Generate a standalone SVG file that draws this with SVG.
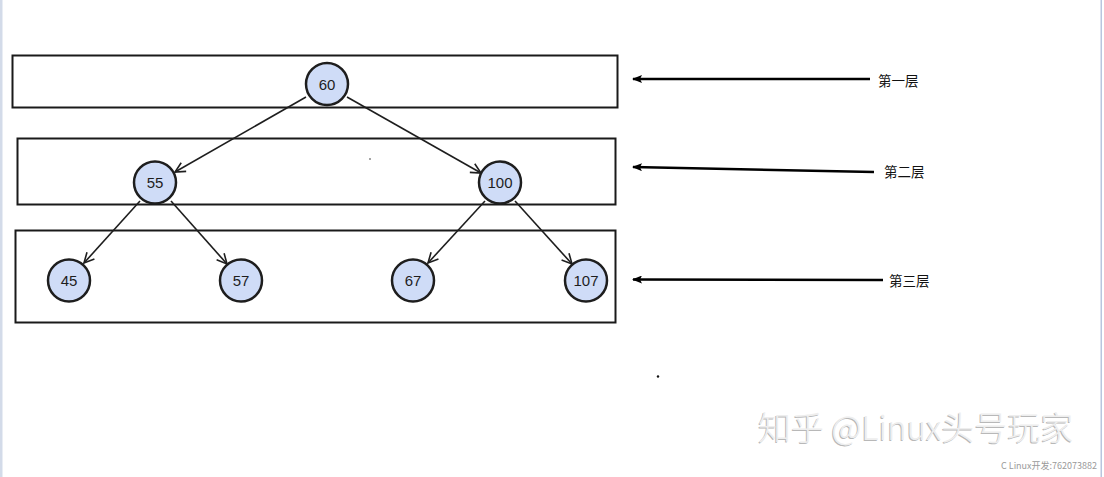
<svg xmlns="http://www.w3.org/2000/svg" width="1104" height="477" viewBox="0 0 1104 477">
<style>
.layer{fill:none;stroke:#1a1a1a;stroke-width:2}
.node circle{fill:#cfdcf7;stroke:#1e1e1e;stroke-width:2.5}
.node text{font-family:"Liberation Sans",Arial,sans-serif;font-size:15px;fill:#1e1e1e;text-anchor:middle;dominant-baseline:central}
.edge{stroke:#1e1e1e;stroke-width:1.6;fill:none;marker-end:url(#open)}
.pointer{stroke:#000;stroke-width:2.5;fill:none;marker-end:url(#solid)}
.lbl{font-family:"Noto Sans CJK SC",sans-serif;font-size:13.5px;fill:#111;dominant-baseline:central}
.wm{font-family:"Noto Sans CJK SC","Noto Sans",sans-serif;font-size:33px;font-weight:300}
</style>
<defs>
<marker id="open" markerUnits="userSpaceOnUse" markerWidth="14" markerHeight="14" refX="11" refY="6" orient="auto" viewBox="0 0 14 12">
<path d="M1,1 L11,6 L1,11" fill="none" stroke="#1e1e1e" stroke-width="1.6"/>
</marker>
<marker id="solid" markerUnits="userSpaceOnUse" markerWidth="10" markerHeight="8" refX="9" refY="4" orient="auto" viewBox="0 0 10 8">
<path d="M0,0 L10,4 L0,8 L2,4 Z" fill="#000"/>
</marker>
</defs>
<rect x="0" y="0" width="1104" height="477" fill="#fff"/>
<rect x="0" y="0" width="2.5" height="477" fill="#d3dbe9"/>
<rect x="1100.5" y="0" width="1.5" height="477" fill="#b9c5de"/>

<g id="layers">
<rect id="layer1" class="layer" x="12.5" y="55.5" width="605" height="52"/>
<rect id="layer2" class="layer" x="17.5" y="138.5" width="598" height="66"/>
<rect id="layer3" class="layer" x="15.5" y="230.5" width="600" height="92"/>
</g>

<g id="connectors">
<line class="edge" x1="306" y1="97" x2="175" y2="172"/>
<line class="edge" x1="347" y1="97" x2="481" y2="173"/>
<line class="edge" x1="140" y1="201" x2="84" y2="263"/>
<line class="edge" x1="171" y1="201" x2="227" y2="264"/>
<line class="edge" x1="485" y1="201" x2="428" y2="263"/>
<line class="edge" x1="515" y1="201" x2="572" y2="264"/>
<line class="pointer" x1="870" y1="79" x2="633" y2="79"/>
<line class="pointer" x1="874" y1="172" x2="633" y2="167"/>
<line class="pointer" x1="883" y1="280" x2="633" y2="279.5"/>
</g>

<g id="n60" class="node"><circle cx="327" cy="84" r="21"/><text x="327" y="84">60</text></g>
<g id="n55" class="node"><circle cx="155" cy="182.5" r="21"/><text x="155" y="182.5">55</text></g>
<g id="n100" class="node"><circle cx="500" cy="182.5" r="21"/><text x="500" y="182.5">100</text></g>
<g id="n45" class="node"><circle cx="69" cy="280.5" r="21"/><text x="69" y="280.5">45</text></g>
<g id="n57" class="node"><circle cx="241" cy="280.5" r="21"/><text x="241" y="280.5">57</text></g>
<g id="n67" class="node"><circle cx="413" cy="280.5" r="21"/><text x="413" y="280.5">67</text></g>
<g id="n107" class="node"><circle cx="586" cy="280.5" r="21"/><text x="586" y="280.5">107</text></g>

<g id="labels">
<text class="lbl" x="878" y="80">第一层</text>
<text class="lbl" x="884" y="171">第二层</text>
<text class="lbl" x="889" y="280">第三层</text>
</g>

<circle cx="370" cy="159" r="0.8" fill="#333"/>
<circle cx="658" cy="376.5" r="1.2" fill="#111"/>

<g id="watermark">
<text class="wm" x="757" y="441" fill="#b8b8b8">知乎 @Linux头号玩家</text>
<text class="wm" x="758" y="440" fill="#eeeeee">知乎 @Linux头号玩家</text>
<text x="1097" y="469" text-anchor="end" font-family="'Noto Sans CJK SC','Liberation Sans',sans-serif" font-size="9px" fill="#9a9a9a">C Linux开发:762073882</text>
</g>
</svg>
